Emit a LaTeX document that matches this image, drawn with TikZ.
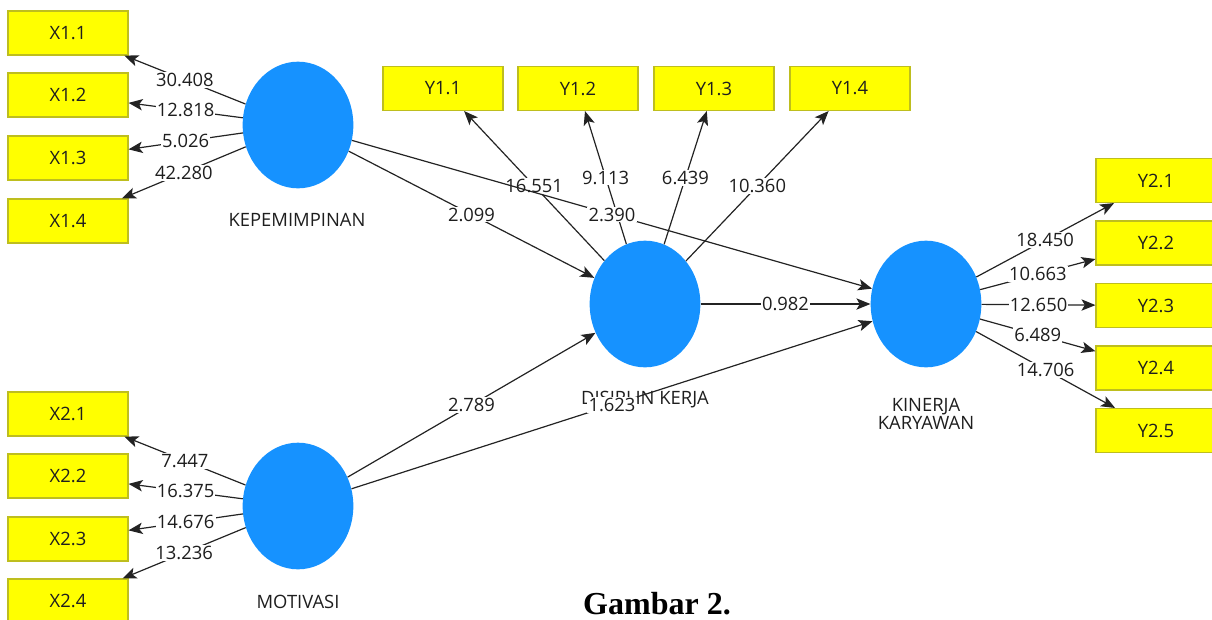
\documentclass[tikz,border=0pt]{standalone}
\usepackage{fontspec}
\setmainfont{Open Sans}
\newfontfamily\capfont{Liberation Serif}
\usetikzlibrary{shapes.geometric,arrows.meta}
\definecolor{lvblue}{RGB}{22,146,255}
\definecolor{indyellow}{RGB}{255,255,0}
\definecolor{indborder}{RGB}{190,190,30}
\definecolor{linegray}{RGB}{35,35,35}
\definecolor{txtgray}{RGB}{30,30,30}
\begin{document}
\begin{tikzpicture}[x=0.75pt,y=-0.75pt,
  font=\fontsize{13.8}{15}\selectfont, text=txtgray,
  ind/.style={draw=indborder, line width=0.8pt, fill=indyellow, minimum width=90pt, minimum height=33pt, inner sep=0pt},
  lv/.style={ellipse, fill=lvblue, minimum width=83pt, minimum height=95pt, inner sep=0pt},
  lvname/.style={align=center, inner sep=0pt},
  conn/.style={draw=linegray, line width=0.9pt, -{Stealth[length=10.5pt,width=8.5pt,inset=2.5pt]}},
  val/.style={fill=white, inner sep=0.8pt, pos=0.5}
]
\useasboundingbox (0,0) rectangle (1212,619);

% latent variables
\node[lv] (kep) at (298,125) {};
\node[lv] (mot) at (298,506) {};
\node[lv] (dis) at (645,304) {};
\node[lv] (kin) at (926,304) {};

\node[lvname] (kepname) at (297,220) {KEPEMIMPINAN};
\node[lvname] (motname) at (298,602) {MOTIVASI};
\node[lvname] (disname) at (645,400) {DISIPLIN KERJA};
\node[lvname] (kinname) at (926,414) {KINERJA\\[-1pt]KARYAWAN};

% indicators
\node[ind] (x11) at (68,33) {X1.1};
\node[ind] (x12) at (68,95) {X1.2};
\node[ind] (x13) at (68,158) {X1.3};
\node[ind] (x14) at (68,221) {X1.4};
\node[ind] (x21) at (68,414) {X2.1};
\node[ind] (x22) at (68,476) {X2.2};
\node[ind] (x23) at (68,539) {X2.3};
\node[ind] (x24) at (68,601) {X2.4};

\node[ind] (y11) at (443,88.5) {Y1.1};
\node[ind] (y12) at (578,88.5) {Y1.2};
\node[ind] (y13) at (714,88.5) {Y1.3};
\node[ind] (y14) at (850,88.5) {Y1.4};

\node[ind] (y21) at (1156,180.5) {Y2.1};
\node[ind] (y22) at (1156,243) {Y2.2};
\node[ind] (y23) at (1156,305.5) {Y2.3};
\node[ind] (y24) at (1156,368) {Y2.4};
\node[ind] (y25) at (1156,430.5) {Y2.5};

% outer model
\draw[conn] (kep) -- node[val] (v1) {30.408} (x11);
\draw[conn] (kep) -- node[val] (v2) {12.818} (x12);
\draw[conn] (kep) -- node[val] (v3) {5.026} (x13);
\draw[conn] (kep) -- node[val] (v4) {42.280} (x14);
\draw[conn] (mot) -- node[val] (v5) {7.447} (x21);
\draw[conn] (mot) -- node[val] (v6) {16.375} (x22);
\draw[conn] (mot) -- node[val] (v7) {14.676} (x23);
\draw[conn] (mot) -- node[val] (v8) {13.236} (x24);
\draw[conn] (dis) -- node[val] (v9) {16.551} (y11);
\draw[conn] (dis) -- node[val] (v10) {9.113} (y12);
\draw[conn] (dis) -- node[val] (v11) {6.439} (y13);
\draw[conn] (dis) -- node[val] (v12) {10.360} (y14);
\draw[conn] (kin) -- node[val] (v13) {18.450} (y21);
\draw[conn] (kin) -- node[val] (v14) {10.663} (y22);
\draw[conn] (kin) -- node[val] (v15) {12.650} (y23);
\draw[conn] (kin) -- node[val] (v16) {6.489} (y24);
\draw[conn] (kin) -- node[val] (v17) {14.706} (y25);

% inner model
\draw[conn] (kep) -- node[val] (p1) {2.099} (dis);
\draw[conn] (kep) -- node[val] (p2) {2.390} (kin);
\draw[conn] (mot) -- node[val] (p3) {2.789} (dis);
\draw[conn] (mot) -- node[val] (p4) {1.623} (kin);
\draw[conn] (dis) -- node[val] (p5) {0.982} (kin);

% caption
\node[anchor=base, inner sep=0pt, text=black, font=\capfont\bfseries\fontsize{24}{28}\selectfont] (cap) at (657,614) {Gambar 2.};
\end{tikzpicture}
\end{document}
